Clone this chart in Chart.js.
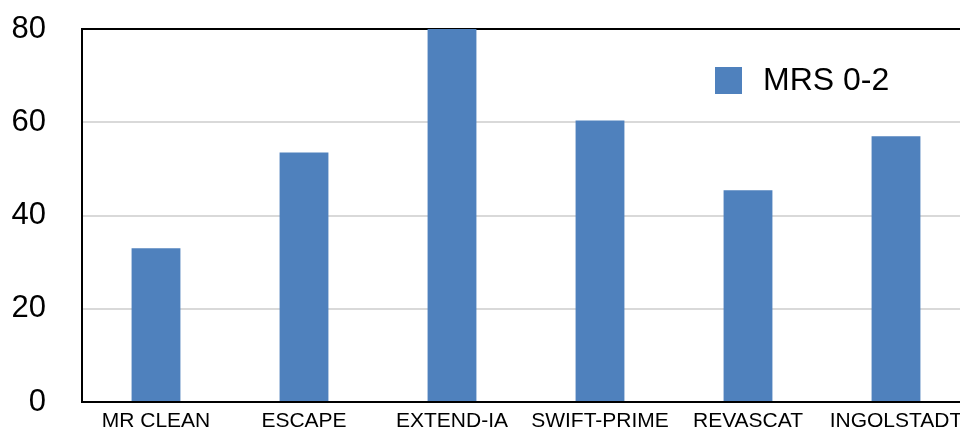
<!DOCTYPE html>
<html>
<head>
<meta charset="utf-8">
<script src="https://cdn.jsdelivr.net/npm/chart.js@4/dist/chart.umd.min.js"></script>
<style>
  html, body { margin: 0; padding: 0; background: #fff; overflow: hidden; }
  #wrap { width: 972px; height: 430px; }
</style>
</head>
<body>
<div id="wrap"><canvas id="c" width="972" height="430"></canvas></div>
<script>
// Good functional outcome (mRS 0-2) by trial, percent of patients
const trials = ['MR CLEAN', 'ESCAPE', 'EXTEND-IA', 'SWIFT-PRIME', 'REVASCAT', 'INGOLSTADT'];
const mrs02 = [33, 53.5, 80, 60.4, 45.4, 57];
const seriesName = 'MRS 0-2';
const yTicks = [0, 20, 40, 60, 80];

const barColor = '#4f81bd';
const fontFamily = 'Arial, "Liberation Sans", Helvetica, sans-serif';

// Keep axis boxes at fixed sizes without extra label overhang padding
function fixPadding(scale) {
  scale.paddingTop = 0;
  scale.paddingBottom = 0;
  scale.paddingLeft = 0;
  scale.paddingRight = 0;
}

// Legend drawn inside the plot area, top right
const innerLegend = {
  id: 'innerLegend',
  afterDatasetsDraw(chart) {
    const { ctx, chartArea } = chart;
    const ds = chart.data.datasets[0];
    const x = chartArea.right - 255;
    const y = chartArea.top + 38;
    ctx.save();
    ctx.fillStyle = ds.backgroundColor;
    ctx.fillRect(x, y, 27, 27);
    ctx.fillStyle = '#000';
    ctx.font = '32px ' + fontFamily;
    ctx.textBaseline = 'middle';
    ctx.textAlign = 'left';
    ctx.fillText(ds.label, x + 48, y + 14);
    ctx.restore();
  }
};

new Chart(document.getElementById('c'), {
  type: 'bar',
  data: {
    labels: trials,
    datasets: [{
      label: seriesName,
      data: mrs02,
      backgroundColor: barColor,
      borderWidth: 0,
      categoryPercentage: 1,
      barPercentage: 0.33
    }]
  },
  options: {
    responsive: false,
    animation: false,
    layout: { padding: { top: 29, left: 12, right: 2, bottom: 0 } },
    plugins: {
      legend: { display: false },
      tooltip: { enabled: false }
    },
    scales: {
      x: {
        grid: { display: false, drawTicks: false },
        border: { display: true, color: '#000', width: 2 },
        afterFit(scale) { fixPadding(scale); scale.height = 28; },
        ticks: {
          color: '#000',
          padding: 9,
          maxRotation: 0,
          autoSkip: false,
          font: { family: fontFamily, size: 21, lineHeight: 1 }
        }
      },
      y: {
        min: 0,
        max: 80,
        afterBuildTicks(axis) { axis.ticks = yTicks.map(v => ({ value: v })); },
        afterFit(scale) { fixPadding(scale); scale.width = 70; },
        grid: {
          drawTicks: false,
          color: ctx => ctx.tick && ctx.tick.value === 80 ? '#000' : '#d9d9d9',
          lineWidth: 2
        },
        border: { display: true, color: '#000', width: 2 },
        ticks: {
          color: '#000',
          padding: 36,
          font: { family: fontFamily, size: 31 }
        }
      }
    }
  },
  plugins: [innerLegend]
});
</script>
</body>
</html>
